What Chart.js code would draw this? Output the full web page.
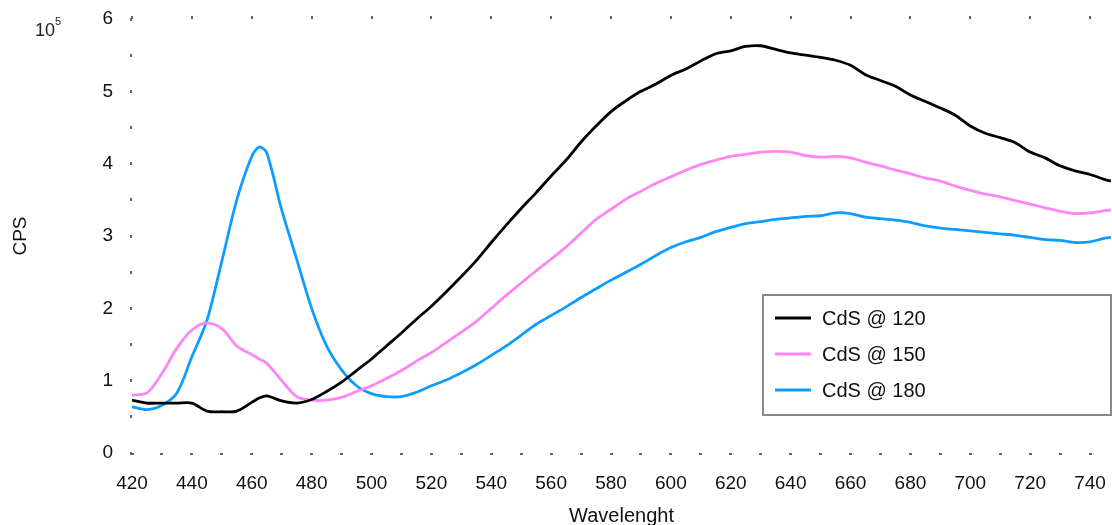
<!DOCTYPE html>
<html>
<head>
<meta charset="utf-8">
<script src="https://cdn.jsdelivr.net/npm/chart.js@4.4.0/dist/chart.umd.min.js"></script>
<style>
  html, body { margin: 0; padding: 0; background: #fff; }
  #wrap { width: 1112px; height: 525px; position: relative; }
</style>
</head>
<body>
<div id="wrap"><canvas id="spectra"></canvas></div>
<script>
// wavelength (nm) and counts per second, in units of 10^5
var wavelength = [420,425,430,435,440,445,450,455,460,462.5,465,470,475,480,485,490,495,500,505,510,515,
  520,525,530,535,540,545,550,555,560,565,570,575,580,585,590,595,600,605,610,615,
  620,625,630,635,640,645,650,655,660,665,670,675,680,685,690,695,700,705,710,715,
  720,725,730,735,740,745,747];

var cds120 = [0.73,0.69,0.69,0.69,0.69,0.58,0.57,0.58,0.70,0.76,0.79,0.72,0.69,0.74,0.85,0.98,1.14,1.30,1.48,1.66,1.85,
  2.03,2.23,2.44,2.66,2.91,3.15,3.38,3.60,3.83,4.05,4.30,4.52,4.72,4.87,5.00,5.10,5.22,5.31,5.42,5.52,
  5.56,5.62,5.63,5.58,5.53,5.50,5.47,5.43,5.36,5.23,5.15,5.07,4.95,4.86,4.77,4.67,4.52,4.42,4.36,4.29,
  4.16,4.08,3.97,3.90,3.85,3.78,3.76];

var cds150 = [0.80,0.83,1.10,1.45,1.70,1.80,1.72,1.48,1.36,1.30,1.24,1.00,0.78,0.73,0.73,0.77,0.85,0.93,1.03,1.14,1.27,
  1.39,1.53,1.67,1.82,2.00,2.18,2.35,2.52,2.68,2.85,3.04,3.23,3.37,3.51,3.62,3.73,3.82,3.91,3.99,4.05,
  4.10,4.13,4.16,4.17,4.16,4.11,4.09,4.10,4.08,4.02,3.97,3.91,3.86,3.80,3.76,3.69,3.63,3.58,3.54,3.49,
  3.44,3.39,3.34,3.31,3.32,3.35,3.36];

var cds180 = [0.64,0.60,0.66,0.83,1.33,1.83,2.65,3.50,4.10,4.23,4.15,3.36,2.68,2.00,1.48,1.15,0.93,0.82,0.78,0.78,0.84,
  0.93,1.01,1.11,1.22,1.35,1.48,1.63,1.78,1.90,2.02,2.15,2.27,2.39,2.50,2.61,2.73,2.84,2.92,2.98,3.06,
  3.12,3.17,3.20,3.23,3.25,3.27,3.28,3.32,3.31,3.26,3.24,3.22,3.19,3.14,3.11,3.09,3.07,3.05,3.03,3.01,
  2.98,2.95,2.94,2.91,2.92,2.97,2.98];

var seriesLabels = ['CdS @ 120', 'CdS @ 150', 'CdS @ 180'];
var seriesColors = ['#000000', '#ff85f5', '#0f9cff'];

var FONT = 'Liberation Sans, Arial, Helvetica, sans-serif';

function pts(ys) {
  return wavelength.map(function (x, i) { return { x: x, y: ys[i] }; });
}

// regular ticks from min, without the extra one chart.js puts at max
function roundTicks(step) {
  return function (s) {
    var t = [];
    for (var v = s.min; v <= s.max + 1e-9; v += step) t.push({ value: v });
    s.ticks = t;
  };
}

// boxed legend inside the plot + the 10^5 multiplier
var extras = {
  id: 'extras',
  afterDraw: function (chart) {
    var c = chart.ctx;
    c.save();
    // exponent label
    c.fillStyle = '#222';
    c.textBaseline = 'alphabetic';
    c.textAlign = 'left';
    c.font = '18px ' + FONT;
    c.fillText('10', 35, 36);
    c.font = '11px ' + FONT;
    c.fillText('5', 55, 25);

    // legend
    c.strokeStyle = '#888';
    c.lineWidth = 2;
    c.strokeRect(763, 295, 348, 120);
    c.font = '20px ' + FONT;
    c.textBaseline = 'middle';
    chart.data.datasets.forEach(function (ds, i) {
      var y = 318 + i * 36;
      c.strokeStyle = ds.borderColor;
      c.lineWidth = 3;
      c.beginPath();
      c.moveTo(775, y);
      c.lineTo(811, y);
      c.stroke();
      c.fillStyle = '#111';
      c.fillText(ds.label, 822, y + 1);
    });
    c.restore();
  }
};

var ctx = document.getElementById('spectra');
var myChart = new Chart(ctx, {
  type: 'line',
  data: {
    datasets: [0, 1, 2].map(function (i) {
      return {
        label: seriesLabels[i],
        data: pts([cds120, cds150, cds180][i]),
        borderColor: seriesColors[i],
        borderWidth: 2.8,
        pointRadius: 0,
        tension: 0.3,
        fill: false
      };
    })
  },
  options: {
    responsive: true,
    maintainAspectRatio: false,
    animation: false,
    layout: { padding: { right: 1 } },
    plugins: { legend: { display: false }, tooltip: { enabled: false } },
    scales: {
      x: {
        type: 'linear',
        position: 'bottom',
        min: 420, max: 747,
        afterBuildTicks: roundTicks(10),
        afterFit: function (s) { s.height = 72; s.paddingLeft = 0; s.paddingRight = 0; },
        border: { display: false },
        grid: { drawOnChartArea: false, color: '#666', lineWidth: 3, tickLength: 2 },
        ticks: {
          stepSize: 10, autoSkip: false, maxRotation: 0, padding: 17,
          color: '#111', font: { family: FONT, size: 19 },
          callback: function (v) { return v % 20 === 0 ? v : ''; }
        },
        title: { display: true, text: 'Wavelenght', color: '#111', font: { family: FONT, size: 20 }, padding: { top: 0, bottom: -3 } }
      },
      xTop: {
        type: 'linear',
        position: 'top',
        min: 420, max: 747,
        afterBuildTicks: roundTicks(20),
        afterFit: function (s) { s.height = 19; s.paddingLeft = 0; s.paddingRight = 0; },
        border: { display: false },
        grid: { drawOnChartArea: false, color: '#666', lineWidth: 2, tickLength: 3 },
        ticks: { stepSize: 20, display: false }
      },
      y: {
        min: 0, max: 6,
        afterFit: function (s) { s.width = 132; s.paddingTop = 0; s.paddingBottom = 0; },
        border: { display: false },
        grid: { drawOnChartArea: false, color: '#666', lineWidth: 3, tickLength: 2 },
        ticks: {
          stepSize: 0.5, autoSkip: false, padding: 17,
          color: '#111', font: { family: FONT, size: 19 },
          callback: function (v) { return Number.isInteger(v) ? v : ''; }
        },
        title: { display: true, text: 'CPS', color: '#111', font: { family: FONT, size: 19 }, padding: { top: 9, bottom: 0 } }
      }
    }
  },
  plugins: [extras]
});
</script>
</body>
</html>
